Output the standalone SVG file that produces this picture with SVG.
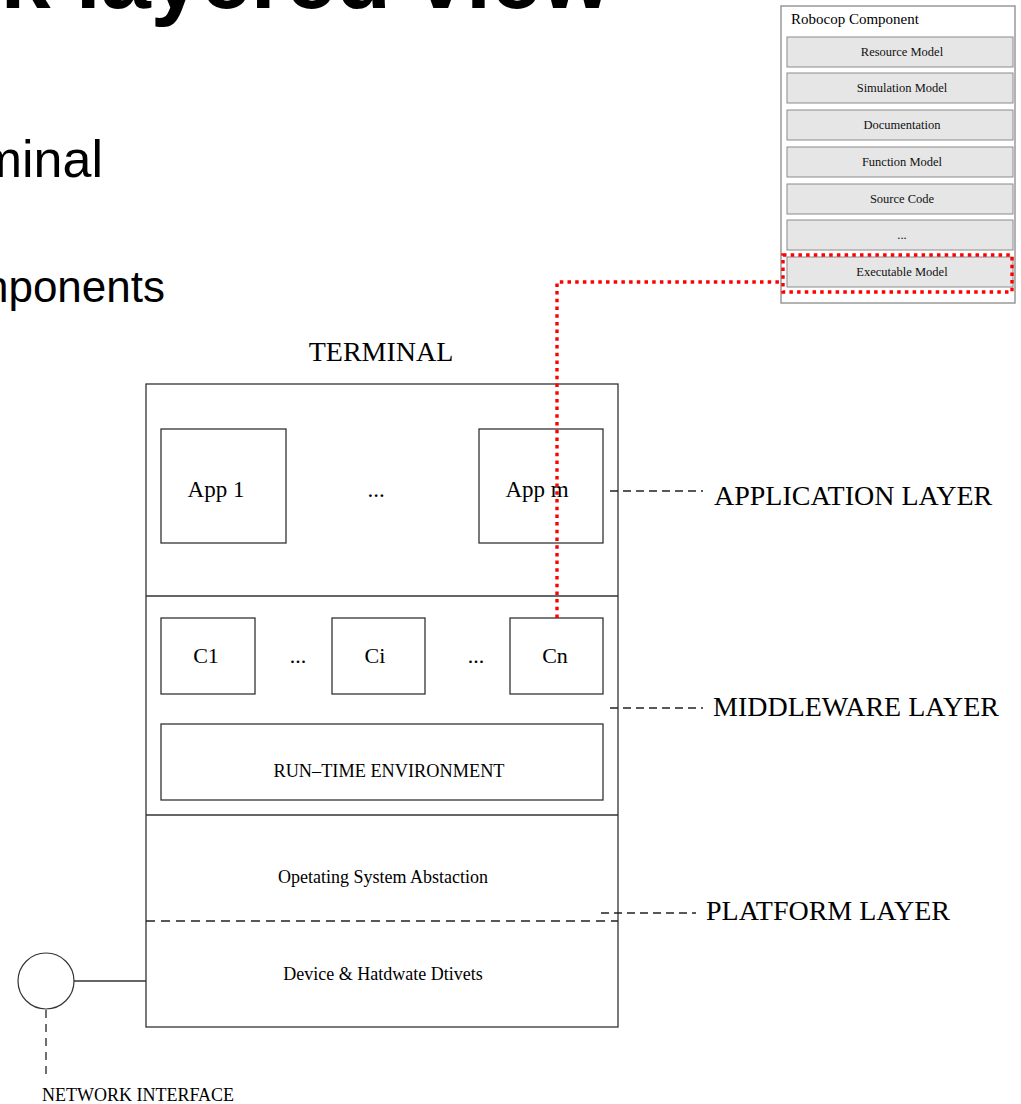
<svg xmlns="http://www.w3.org/2000/svg" width="1021" height="1104" viewBox="0 0 1021 1104">
<style>
.bg{fill:#ffffff}
.box{fill:none;stroke:#333333;stroke-width:1.3}
.serif{font-family:"Liberation Serif","Times New Roman",serif;fill:#000}
.sans{font-family:"Liberation Sans",Arial,sans-serif;fill:#000}
.row{fill:#e6e6e6;stroke:#8a8a8a;stroke-width:1}
.rowtxt{font-family:"Liberation Serif","Times New Roman",serif;font-size:12.5px;fill:#111;text-anchor:middle}
.lbl{font-size:28px}
.dash{fill:none;stroke:#222222;stroke-width:1.3;stroke-dasharray:8 5}
.red{fill:none;stroke:#ff0000;stroke-width:3.4;stroke-dasharray:3.5 4.2}
</style>
<rect class="bg" x="0" y="0" width="1021" height="1104"/>

<g id="slide-text">
<text class="sans" x="611" y="8" font-size="90" font-weight="bold" text-anchor="end">k layered view</text>
<text class="sans" x="103" y="177" font-size="52" text-anchor="end">minal</text>
<text class="sans" x="165" y="302" font-size="44" text-anchor="end">nponents</text>
</g>

<g id="robocop-component">
<rect x="781" y="6" width="234" height="297" fill="#ffffff" stroke="#999999" stroke-width="1.5"/>
<text class="serif" x="791" y="24" font-size="15">Robocop Component</text>
<g id="row-resource"><rect class="row" x="787" y="37" width="226" height="30"/><text class="rowtxt" x="902" y="56">Resource Model</text></g>
<g id="row-simulation"><rect class="row" x="787" y="73" width="226" height="30"/><text class="rowtxt" x="902" y="92">Simulation Model</text></g>
<g id="row-documentation"><rect class="row" x="787" y="110" width="226" height="30"/><text class="rowtxt" x="902" y="129">Documentation</text></g>
<g id="row-function"><rect class="row" x="787" y="147" width="226" height="30"/><text class="rowtxt" x="902" y="166">Function Model</text></g>
<g id="row-source"><rect class="row" x="787" y="184" width="226" height="30"/><text class="rowtxt" x="902" y="203">Source Code</text></g>
<g id="row-more"><rect class="row" x="787" y="220" width="226" height="30"/><text class="rowtxt" x="902" y="239">...</text></g>
<g id="row-executable"><rect class="row" x="787" y="257" width="226" height="30"/><text class="rowtxt" x="902" y="276">Executable Model</text></g>
<rect class="red" x="783" y="255" width="229" height="37"/>
</g>

<g id="terminal">
<text class="serif" x="381" y="361" font-size="28" text-anchor="middle">TERMINAL</text>
<rect class="box" x="146" y="384" width="472" height="643"/>
<line class="box" x1="146" y1="596" x2="618" y2="596"/>
<line class="box" x1="146" y1="815" x2="618" y2="815"/>
<line class="dash" x1="146" y1="921" x2="618" y2="921" style="stroke-dasharray:9 6"/>
</g>

<g id="app1">
<rect class="box" x="161" y="429" width="125" height="114"/>
<text class="serif" x="216" y="497" font-size="23" text-anchor="middle">App 1</text>
</g>
<text class="serif" x="376" y="497" font-size="23" text-anchor="middle">...</text>
<g id="appm">
<rect class="box" x="479" y="429" width="124" height="114"/>
<text class="serif" x="537" y="497" font-size="23" text-anchor="middle">App m</text>
</g>

<g id="c1">
<rect class="box" x="161" y="618" width="94" height="76"/>
<text class="serif" x="206" y="663" font-size="22" text-anchor="middle">C1</text>
</g>
<text class="serif" x="298" y="663" font-size="22" text-anchor="middle">...</text>
<g id="ci">
<rect class="box" x="332" y="618" width="93" height="76"/>
<text class="serif" x="375" y="663" font-size="22" text-anchor="middle">Ci</text>
</g>
<text class="serif" x="476" y="663" font-size="22" text-anchor="middle">...</text>
<g id="cn">
<rect class="box" x="510" y="618" width="93" height="76"/>
<text class="serif" x="555" y="663" font-size="22" text-anchor="middle">Cn</text>
</g>

<g id="rte">
<rect class="box" x="161" y="724" width="442" height="76"/>
<text class="serif" x="389" y="777" font-size="18.3" text-anchor="middle">RUN–TIME ENVIRONMENT</text>
</g>

<g id="os-abstraction">
<text class="serif" x="383" y="883" font-size="18" text-anchor="middle">Opetating System Abstaction</text>
</g>
<g id="device-drivers">
<text class="serif" x="383" y="980" font-size="18" text-anchor="middle">Device &amp; Hatdwate Dtivets</text>
</g>

<g id="network-interface">
<circle cx="46" cy="981" r="28" fill="none" stroke="#333333" stroke-width="1.2"/>
<text class="serif" x="138" y="1101" font-size="18" text-anchor="middle">NETWORK INTERFACE</text>
</g>

<g id="application-layer-label"><text class="serif lbl" x="714" y="505">APPLICATION LAYER</text></g>
<g id="middleware-layer-label"><text class="serif lbl" x="713" y="716">MIDDLEWARE LAYER</text></g>
<g id="platform-layer-label"><text class="serif lbl" x="706" y="920">PLATFORM LAYER</text></g>

<g id="connectors">
<line class="dash" x1="610" y1="491" x2="703" y2="491"/>
<line class="dash" x1="610" y1="708" x2="703" y2="708"/>
<line class="dash" x1="601" y1="913" x2="696" y2="913"/>
<line x1="74" y1="981" x2="146" y2="981" stroke="#333333" stroke-width="1.3"/>
<line class="dash" x1="46" y1="1010" x2="46" y2="1078" style="stroke-dasharray:8 6"/>
<polyline class="red" points="557,618 557,282 783,282"/>
</g>
</svg>
